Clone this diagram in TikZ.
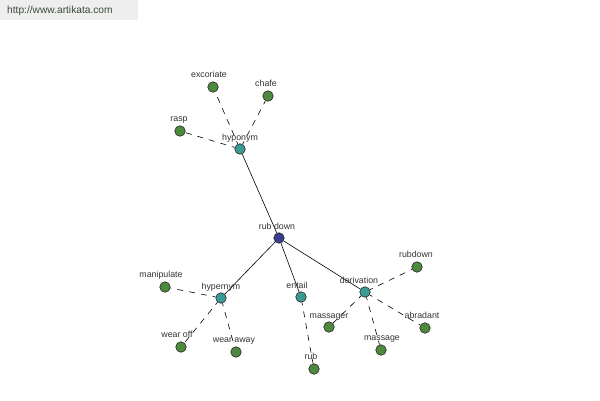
\documentclass[tikz,border=0pt]{standalone}
\usepackage{fontspec}
\setmainfont{Liberation Sans}
\usetikzlibrary{calc,backgrounds}
\definecolor{leafgreen}{HTML}{4E8A3E}
\definecolor{relteal}{HTML}{3C9A96}
\definecolor{rootnavy}{HTML}{3A3C8C}
\definecolor{headbg}{HTML}{EEEEEE}
\definecolor{headtxt}{HTML}{3A4A3A}
\definecolor{lbl}{HTML}{333333}
\tikzset{
  dot/.style={circle,draw=black!85,line width=0.6pt,minimum size=10.5pt,inner sep=0pt},
  leaf/.style={dot,fill=leafgreen},
  rel/.style={dot,fill=relteal},
  root/.style={dot,fill=rootnavy},
  lab/.style={font=\fontsize{8.8}{9}\selectfont,text=lbl,inner sep=0pt,anchor=base},
  solidedge/.style={line width=0.6pt,black},
  dashedge/.style={line width=0.6pt,black,dash pattern=on 6pt off 6pt,dash phase=3pt}
}
\begin{document}
\begin{tikzpicture}[x=1pt,y=-1pt]
\useasboundingbox (0,0) rectangle (600,400);
% nodes
\node[root] (rubdown) at (279,238) {};
\node[rel] (hyponym) at (240,149) {};
\node[leaf] (excoriate) at (213,87) {};
\node[leaf] (chafe) at (268,96) {};
\node[leaf] (rasp) at (180,131) {};
\node[rel] (hypernym) at (221,298) {};
\node[leaf] (manipulate) at (165,287) {};
\node[leaf] (wearoff) at (181,347) {};
\node[leaf] (wearaway) at (236,352) {};
\node[rel] (entail) at (301,297) {};
\node[leaf] (rub) at (314,369) {};
\node[rel] (derivation) at (365,292) {};
\node[leaf] (rubdown2) at (417,267) {};
\node[leaf] (massager) at (329,327) {};
\node[leaf] (massage) at (381,350) {};
\node[leaf] (abradant) at (425,328) {};

\begin{scope}[on background layer]
\fill[white] (0,0) rectangle (600,400);
\fill[headbg] (0,0) rectangle (138,20);
\draw[solidedge] (rubdown) -- (hyponym);
\draw[solidedge] (rubdown) -- (hypernym);
\draw[solidedge] (rubdown) -- (entail);
\draw[solidedge] (rubdown) -- (derivation);
\draw[dashedge] (hyponym) -- (excoriate);
\draw[dashedge] (hyponym) -- (chafe);
\draw[dashedge] (hyponym) -- (rasp);
\draw[dashedge] (hypernym) -- (manipulate);
\draw[dashedge] (hypernym) -- (wearoff);
\draw[dashedge] (hypernym) -- (wearaway);
\draw[dashedge] (entail) -- (rub);
\draw[dashedge] (derivation) -- (rubdown2);
\draw[dashedge] (derivation) -- (massager);
\draw[dashedge] (derivation) -- (massage);
\draw[dashedge] (derivation) -- (abradant);
\end{scope}

\node[anchor=west,font=\fontsize{10.2}{11}\selectfont,text=headtxt,inner sep=0pt] (url) at (7,11) {http://www.artikata.com};

% labels
\node[lab] (l1) at ($(rubdown)+(-2,-9)$) {rub down};
\node[lab] (l2) at ($(hyponym)+(0,-9)$) {hyponym};
\node[lab] (l3) at ($(excoriate)+(-4,-10)$) {excoriate};
\node[lab] (l4) at ($(chafe)+(-2,-10)$) {chafe};
\node[lab] (l5) at ($(rasp)+(-1,-10)$) {rasp};
\node[lab] (l6) at ($(hypernym)+(0,-9)$) {hypernym};
\node[lab] (l7) at ($(manipulate)+(-4,-10)$) {manipulate};
\node[lab] (l8) at ($(wearoff)+(-4,-10)$) {wear off};
\node[lab] (l9) at ($(wearaway)+(-2,-10)$) {wear away};
\node[lab] (l10) at ($(entail)+(-4,-9)$) {entail};
\node[lab] (l11) at ($(rub)+(-3,-10)$) {rub};
\node[lab] (l12) at ($(derivation)+(-6,-9)$) {derivation};
\node[lab] (l13) at ($(rubdown2)+(-1,-10)$) {rubdown};
\node[lab] (l14) at ($(massager)+(0,-9)$) {massager};
\node[lab] (l15) at ($(massage)+(1,-10)$) {massage};
\node[lab] (l16) at ($(abradant)+(-3,-10)$) {abradant};
\end{tikzpicture}
\end{document}
